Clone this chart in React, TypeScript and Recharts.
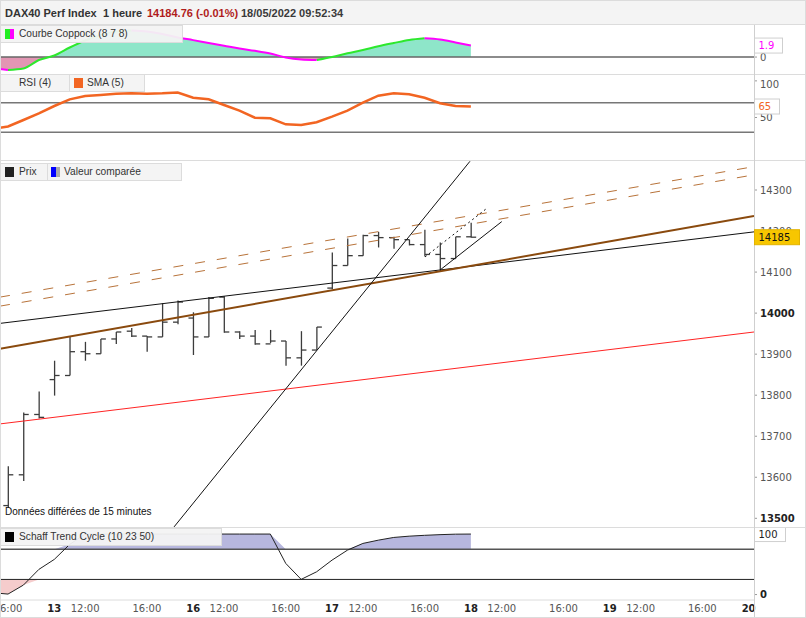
import React from 'react';
import { ComposedChart, Line, Area, Bar, XAxis, YAxis, ReferenceLine } from 'recharts';

const CHART_W = 806;
const AXIS_W = 52;
const X_DOMAIN: [number, number] = [-0.52, 48.35];

// hourly bars, index 0 = 12/05 16:00, sessions run 10:00..18:00 (9 bars a day)
const opens = [13531, 13606, 13753, 13838, 13848, 13906, 13901, 13937, 13956, 13944, 13942, 13978, 13988, 13942, 14039, 13954, 13944, 13925, 13932, 13891, 13910, 14061, 14116, 14140, 14189, 14184, 14179, 14167, 14143, 14133, 14186];
const highs = [13627, 13758, 13809, 13884, 13944, 13930, 13937, 13954, 13964, 13944, 14024, 14031, 14002, 14039, 14041, 13956, 13959, 13959, 13932, 13956, 13966, 14148, 14182, 14191, 14198, 14186, 14179, 14203, 14172, 14186, 14220];
const lows = [13526, 13591, 13743, 13799, 13848, 13884, 13901, 13925, 13942, 13906, 13942, 13973, 13898, 13942, 13952, 13937, 13923, 13927, 13872, 13872, 13910, 14058, 14116, 14140, 14160, 14157, 14165, 14138, 14102, 14133, 14184];
const closes = [13606, 13753, 13746, 13848, 13906, 13901, 13937, 13954, 13944, 13942, 13978, 14027, 13942, 14036, 13954, 13944, 13925, 13932, 13891, 13910, 13966, 14116, 14140, 14189, 14184, 14179, 14167, 14143, 14133, 14186, 14185];

// indicators start one bar earlier (index -1)
const coppock = [-1.8, -2.13, -1.89, -0.49, 0.26, 1.58, 2.74, 3.65, 4.22, 4.39, 4.22, 3.81, 3.23, 2.8, 2.33, 1.88, 1.42, 1.04, 0.59, -0.07, -0.4, -0.49, 0.01, 0.62, 1.17, 1.79, 2.32, 2.82, 3.1, 2.9, 2.42, 1.9];
const rsiSma = [34.3, 37.7, 46.6, 55.7, 65.7, 74.8, 79.4, 80.7, 82.4, 83, 82.4, 83, 84.1, 77, 74.8, 67, 59.3, 49.7, 48.9, 40.7, 39.8, 43.5, 51.1, 59.3, 70.2, 79.8, 83, 81.7, 77, 69.4, 65.7, 65];
const schaff = [3, 0.8, 15.7, 41.6, 58.1, 83, 100, 100, 100, 100, 100, 100, 100, 100, 100, 100, 100, 100, 100, 51.5, 25.1, 37.6, 56.9, 73.4, 84.5, 89.9, 94.4, 96.5, 97.9, 99, 99.8, 100];

const xTicks = [0, 3, 5, 9, 12, 14, 18, 21, 23, 27, 30, 32, 36, 39, 41, 45, 48];
const xLabels = ['16:00', '13', '12:00', '16:00', '16', '12:00', '16:00', '17', '12:00', '16:00', '18', '12:00', '16:00', '19', '12:00', '16:00', '20'];
const dayLabels = ['13', '16', '17', '18', '19', '20'];

const priceTicks = [13500, 13600, 13700, 13800, 13900, 14000, 14100, 14200, 14300];
const boldPrice = [13500, 14000];

// drawn trend lines: [bar index, price]
const redLine = [[-0.52, 13730], [48.35, 13954]];
const brownLine = [[-0.52, 13913], [48.35, 14237]];
const blackLine = [[-0.52, 13975], [48.35, 14198]];
const dashUpper = [[-0.52, 14039], [48.35, 14357]];
const dashLower = [[-0.52, 14017], [48.35, 14337]];
const steepLine = [[10.76, 13479], [29.94, 14370]];
const shortLine = [[28.0, 14105], [32.0, 14223]];
const dottedLine = [[27.03, 14137], [31.02, 14255]];

const COPP_DOMAIN: [number, number] = [-2.8, 5.3];
const RSI_DOMAIN: [number, number] = [-8, 108];
const PRICE_DOMAIN: [number, number] = [13478.8, 14370.7];
const STC_DOMAIN: [number, number] = [-9, 110];

const fontAxis = '"DejaVu Sans", Verdana, sans-serif';
const fontUi = '"Liberation Sans", Arial, sans-serif';

const priceData = opens.map((o, i) => ({ i, open: o, high: highs[i], low: lows[i], close: closes[i] }));

const indData = coppock.map((c, k) => {
  const prev = coppock[k - 1];
  const next = coppock[k + 1];
  const up = (prev !== undefined && c >= prev) || (next !== undefined && next >= c);
  const down = (prev !== undefined && c <= prev) || (next !== undefined && next <= c);
  return {
    i: k - 1,
    copp: c,
    coppUp: up ? c : null,
    coppDown: down ? c : null,
    rsi: rsiSma[k],
    stc: schaff[k],
    stcHi: Math.max(schaff[k], 75),
    stcLo: Math.min(schaff[k], 25),
  };
});

const cMax = Math.max(...coppock);
const cMin = Math.min(...coppock);
const coppOff = cMax / (cMax - cMin);

const seg = (l: number[][]) => [{ x: l[0][0], y: l[0][1] }, { x: l[1][0], y: l[1][1] }];

const OhlcShape = (props: any) => {
  const { x, y, width, height, payload } = props;
  if (x == null || !payload) return null;
  const cx = x + width / 2;
  const top = Math.min(y, y + height);
  const h = Math.abs(height);
  const range = payload.high - payload.low || 1;
  const yo = top + ((payload.high - payload.open) / range) * h;
  const yc = top + ((payload.high - payload.close) / range) * h;
  return (
    <g stroke="#3c3c3c" strokeWidth={1.3}>
      <line x1={cx} x2={cx} y1={top} y2={top + h} />
      <line x1={cx - 5} x2={cx} y1={yo} y2={yo} />
      <line x1={cx} x2={cx + 5} y1={yc} y2={yc} />
    </g>
  );
};

const ValueTag = (props: any) => {
  const { viewBox, text, color, bg = '#fff', border = '#cfcfcf', w = 28 } = props;
  if (!viewBox) return null;
  const x = viewBox.x + viewBox.width + 0.5;
  const y = viewBox.y;
  return (
    <g>
      <rect x={x} y={y - 7.5} width={w} height={15} fill={bg} stroke={border} />
      <text x={x + 4} y={y} dy="0.36em" fontSize={10} fill={color} fontFamily={fontAxis}>{text}</text>
    </g>
  );
};

const makeTick = (bold: number[]) => (props: any) => {
  const { x, y, payload } = props;
  const b = bold.includes(payload.value);
  return (
    <text x={x} y={y} dy="0.36em" textAnchor="start" fontSize={10} fontFamily={fontAxis}
      fontWeight={b ? 'bold' : 'normal'} fill={b ? '#222' : '#555'}>
      {payload.value}
    </text>
  );
};

const TimeTick = (props: any) => {
  const { x, y, payload } = props;
  const label = xLabels[xTicks.indexOf(payload.value)] ?? '';
  const bold = dayLabels.includes(label);
  return (
    <text x={x} y={y} dy="0.71em" textAnchor="middle" fontSize={10} fontFamily={fontAxis}
      fontWeight={bold ? 'bold' : 'normal'} fill={bold ? '#222' : '#555'}>
      {label}
    </text>
  );
};

const LegendBox = ({ left, top, width, children }: any) => (
  <div style={{
    position: 'absolute', left, top, width, height: 18, boxSizing: 'border-box',
    background: 'rgba(243,243,243,0.95)', border: '1px solid #dcdcdc',
    fontFamily: fontUi, fontSize: 10.2, color: '#333', whiteSpace: 'nowrap',
  }}>{children}</div>
);

const Icon = ({ left, colors }: { left: number; colors: string[] }) => (
  <span style={{ position: 'absolute', left, top: 3, width: 9, height: 10, display: 'flex' }}>
    {colors.map((c, k) => <span key={k} style={{ flex: 1, background: c }} />)}
  </span>
);

const LegendText = ({ left, children }: any) => (
  <span style={{ position: 'absolute', left, top: 2, lineHeight: '12px' }}>{children}</span>
);

// last-value tag, drawn in a transparent chart on top so it covers the axis labels
const TagOverlay = ({ top, height, domain, value, tag }: any) => (
  <div style={{ position: 'absolute', left: 0, top, pointerEvents: 'none' }}>
    <ComposedChart width={CHART_W} height={height} data={priceData} margin={{ top: 0, right: AXIS_W, bottom: 0, left: 0 }}>
      <XAxis dataKey="i" type="number" domain={X_DOMAIN} allowDataOverflow hide />
      <YAxis domain={domain} allowDataOverflow hide />
      <ReferenceLine y={value} stroke="none" label={tag} />
    </ComposedChart>
  </div>
);

const xAxisHidden = <XAxis dataKey="i" type="number" domain={X_DOMAIN} allowDataOverflow hide />;
const margin0 = { top: 0, right: 0, bottom: 0, left: 0 };
const hLine = (top: number) => (
  <div style={{ position: 'absolute', left: 0, top, width: CHART_W, height: 1, background: '#dcdcdc' }} />
);

export default function App() {
  return (
    <div style={{ position: 'absolute', left: 0, top: 0, width: CHART_W, height: 618, background: '#fff', overflow: 'hidden' }}>
      {/* header */}
      <div style={{ position: 'absolute', left: 0, top: 0, width: CHART_W, height: 25, background: '#f4f4f4', borderBottom: '1px solid #dcdcdc', boxSizing: 'border-box', fontFamily: fontUi, fontSize: 11, fontWeight: 'bold', lineHeight: '27px' }}>
        <span style={{ position: 'absolute', left: 5, color: '#333' }}>DAX40 Perf Index</span>
        <span style={{ position: 'absolute', left: 103, color: '#333' }}>1 heure</span>
        <span style={{ position: 'absolute', left: 147, color: '#b01c1c' }}>14184.76 (-0.01%)</span>
        <span style={{ position: 'absolute', left: 241, color: '#3a3a3a' }}>18/05/2022 09:52:34</span>
      </div>

      {/* Coppock */}
      <div style={{ position: 'absolute', left: 0, top: 25 }}>
        <ComposedChart width={CHART_W} height={49} data={indData} margin={margin0}>
          <defs>
            <linearGradient id="coppFill" x1="0" y1="0" x2="0" y2="1">
              <stop offset={coppOff} stopColor="#8ee6c9" />
              <stop offset={coppOff} stopColor="#e296b3" />
            </linearGradient>
          </defs>
          {xAxisHidden}
          <YAxis orientation="right" width={AXIS_W} domain={COPP_DOMAIN} ticks={[0]} allowDataOverflow
            axisLine={false} tickLine={{ stroke: '#999' }} tickSize={3} tickMargin={3} tick={makeTick([])} />
          <Area dataKey="copp" type="monotone" baseValue={0} fill="url(#coppFill)" fillOpacity={1} stroke="none" isAnimationActive={false} />
          <ReferenceLine y={0} stroke="#666" strokeWidth={1.5} />
          <Line dataKey="coppUp" type="monotone" stroke="#2de82d" strokeWidth={2} dot={false} isAnimationActive={false} />
          <Line dataKey="coppDown" type="monotone" stroke="#ff00ff" strokeWidth={2} dot={false} isAnimationActive={false} />
        </ComposedChart>
      </div>

      {/* RSI / SMA */}
      <div style={{ position: 'absolute', left: 0, top: 75 }}>
        <ComposedChart width={CHART_W} height={85} data={indData} margin={margin0}>
          {xAxisHidden}
          <YAxis orientation="right" width={AXIS_W} domain={RSI_DOMAIN} ticks={[0, 50, 100]} allowDataOverflow
            axisLine={false} tickLine={{ stroke: '#999' }} tickSize={3} tickMargin={3} tick={makeTick([0])} />
          <ReferenceLine y={70} stroke="#777" strokeWidth={1.5} />
          <ReferenceLine y={30} stroke="#777" strokeWidth={1.5} />
          <Line dataKey="rsi" type="linear" stroke="#f26522" strokeWidth={2.5} dot={false} isAnimationActive={false} />
        </ComposedChart>
      </div>

      {/* price */}
      <div style={{ position: 'absolute', left: 0, top: 161 }}>
        <ComposedChart width={CHART_W} height={366} data={priceData} margin={margin0}>
          {xAxisHidden}
          <YAxis orientation="right" width={AXIS_W} domain={PRICE_DOMAIN} ticks={priceTicks} interval={0} allowDataOverflow
            axisLine={false} tickLine={{ stroke: '#999' }} tickSize={3} tickMargin={3} tick={makeTick(boldPrice)} />
          <ReferenceLine segment={seg(redLine)} stroke="#ff2424" strokeWidth={1} ifOverflow="hidden" />
          <ReferenceLine segment={seg(dashUpper)} stroke="#b8733a" strokeWidth={1} strokeDasharray="10 12" ifOverflow="hidden" />
          <ReferenceLine segment={seg(dashLower)} stroke="#b8733a" strokeWidth={1} strokeDasharray="10 12" ifOverflow="hidden" />
          <ReferenceLine segment={seg(blackLine)} stroke="#111" strokeWidth={1} ifOverflow="hidden" />
          <ReferenceLine segment={seg(brownLine)} stroke="#8a4a0e" strokeWidth={2} ifOverflow="hidden" />
          <ReferenceLine segment={seg(steepLine)} stroke="#111" strokeWidth={1} ifOverflow="hidden" />
          <ReferenceLine segment={seg(shortLine)} stroke="#111" strokeWidth={1} ifOverflow="hidden" />
          <ReferenceLine segment={seg(dottedLine)} stroke="#111" strokeWidth={1} strokeDasharray="2 3" ifOverflow="hidden" />
          <Bar dataKey={(d: any) => [d.low, d.high]} barSize={10} shape={<OhlcShape />} isAnimationActive={false} />
        </ComposedChart>
      </div>

      {/* Schaff trend cycle + time axis */}
      <div style={{ position: 'absolute', left: 0, top: 528 }}>
        <ComposedChart width={CHART_W} height={90} data={indData} margin={margin0}>
          <XAxis dataKey="i" type="number" domain={X_DOMAIN} allowDataOverflow ticks={xTicks} interval={0}
            height={18} tickLine={false} tickSize={3} tickMargin={2} axisLine={{ stroke: '#dcdcdc' }} tick={<TimeTick />} />
          <YAxis orientation="right" width={AXIS_W} domain={STC_DOMAIN} ticks={[0]} allowDataOverflow
            axisLine={false} tickLine={{ stroke: '#999' }} tickSize={3} tickMargin={3} tick={makeTick([0])} />
          <Area dataKey="stcHi" type="linear" baseValue={75} fill="#b7b7de" fillOpacity={1} stroke="none" isAnimationActive={false} />
          <Area dataKey="stcLo" type="linear" baseValue={25} fill="#f5cccc" fillOpacity={1} stroke="none" isAnimationActive={false} />
          <ReferenceLine y={75} stroke="#555" strokeWidth={1.5} />
          <ReferenceLine y={25} stroke="#222" strokeWidth={1} />
          <Line dataKey="stc" type="linear" stroke="#222" strokeWidth={1} dot={false} isAnimationActive={false} />
        </ComposedChart>
      </div>

      {/* separators */}
      {hLine(74)}
      {hLine(160)}
      {hLine(527)}
      <div style={{ position: 'absolute', left: 754, top: 25, width: 1, height: 593, background: '#cfcfcf' }} />

      {/* last-value tags */}
      <TagOverlay top={25} height={49} domain={COPP_DOMAIN} value={coppock[coppock.length - 1]}
        tag={<ValueTag text="1.9" color="#ff00ff" w={28} />} />
      <TagOverlay top={75} height={85} domain={RSI_DOMAIN} value={rsiSma[rsiSma.length - 1]}
        tag={<ValueTag text="65" color="#f26522" w={25} />} />
      <TagOverlay top={161} height={366} domain={PRICE_DOMAIN} value={closes[closes.length - 1]}
        tag={<ValueTag text="14185" color="#111" bg="#f7c600" border="#e3b300" w={45} />} />
      <TagOverlay top={528} height={72} domain={STC_DOMAIN} value={schaff[schaff.length - 1]}
        tag={<ValueTag text="100" color="#222" w={31} />} />

      {/* legends */}
      <LegendBox left={0} top={25} width={183}>
        <Icon left={4} colors={['#22ee22', '#ff00ff']} />
        <LegendText left={18}>Courbe Coppock (8 7 8)</LegendText>
      </LegendBox>
      <LegendBox left={0} top={74} width={70}>
        <LegendText left={18}>RSI (4)</LegendText>
      </LegendBox>
      <LegendBox left={69} top={74} width={76}>
        <Icon left={4} colors={['#f26522']} />
        <LegendText left={17}>SMA (5)</LegendText>
      </LegendBox>
      <LegendBox left={0} top={163} width={48}>
        <Icon left={4} colors={['#222']} />
        <LegendText left={18}>Prix</LegendText>
      </LegendBox>
      <LegendBox left={47} top={163} width={135}>
        <Icon left={3} colors={['#0000ff', '#aaaaaa']} />
        <LegendText left={16}>Valeur comparée</LegendText>
      </LegendBox>
      <LegendBox left={0} top={528} width={222}>
        <Icon left={4} colors={['#000']} />
        <LegendText left={18}>Schaff Trend Cycle (10 23 50)</LegendText>
      </LegendBox>

      <div style={{ position: 'absolute', left: 5, top: 506, fontFamily: fontUi, fontSize: 10, color: '#111', whiteSpace: 'nowrap' }}>
        Données différées de 15 minutes
      </div>

      <div style={{ position: 'absolute', left: 0, top: 0, width: CHART_W, height: 618, border: '1px solid #dcdcdc', boxSizing: 'border-box', pointerEvents: 'none' }} />
    </div>
  );
}
